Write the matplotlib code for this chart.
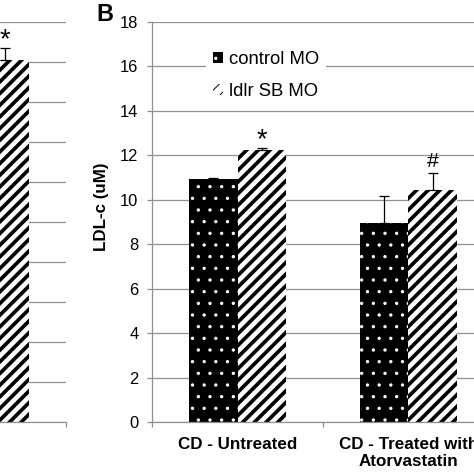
import matplotlib
matplotlib.use("Agg")
import matplotlib.pyplot as plt
import numpy as np

# ---------------- data ----------------
categories = ["CD - Untreated", "CD - Treated with\nAtorvastatin"]
series_names = ["control MO", "ldlr SB MO"]
control_vals = [10.95, 8.95]
control_err = [0.05, 1.22]
ldlr_vals = [12.25, 10.45]
ldlr_err = [0.08, 0.77]
marks = ["*", "#"]          # significance marks above ldlr bars
y_ticks_b = [0, 2, 4, 6, 8, 10, 12, 14, 16, 18]

# partially visible panel A (only the last hatched bar is in view)
panel_a_vals = [18.1]
panel_a_err = [0.6]
panel_a_marks = ["*"]
y_ticks_a = [0, 2, 4, 6, 8, 10, 12, 14, 16, 18, 20]

# ---------------- style ----------------
DPI = 70
W = H = 474
plt.rcParams['font.family'] = ['Liberation Sans', 'DejaVu Sans']
GRID = '#909090'
BAR_W = 0.2865
MARK_STYLE = {"*": dict(fontsize=28, dy=1), "#": dict(fontsize=22, dy=6)}

fig = plt.figure(figsize=(W / DPI, H / DPI), dpi=DPI)


def px(v):
    return v / W


def style_axes(ax, yticks):
    ax.set_ylim(yticks[0], yticks[-1])
    ax.set_xlim(0, 2)
    ax.set_yticks(yticks)
    ax.yaxis.grid(True, color=GRID, linewidth=1.3)
    ax.set_axisbelow(True)
    for s in ['top', 'right']:
        ax.spines[s].set_visible(False)
    for s in ['left', 'bottom']:
        ax.spines[s].set_color(GRID)
        ax.spines[s].set_linewidth(1.3)
    ax.tick_params(axis='y', direction='out', length=5, width=1.3, color=GRID,
                   labelsize=17, pad=9)
    ax.set_xticks([0, 1, 2])
    ax.set_xticklabels([])
    ax.tick_params(axis='x', which='major', direction='out', length=5,
                   width=1.3, color=GRID)


def draw_bar(ax, x, vals, face, edge, hatch, hlw):
    with plt.rc_context({'hatch.linewidth': hlw}):
        bars = ax.bar(x, vals, width=BAR_W, color=face, edgecolor=edge,
                      hatch=hatch, linewidth=0, zorder=2)
    for b in bars:
        if hasattr(b, 'set_hatch_linewidth'):
            b.set_hatch_linewidth(hlw)
    return bars


def draw_marks(ax, xs, vals, errs, labels):
    for x, v, e, m in zip(xs, vals, errs, labels):
        st = MARK_STYLE[m]
        ax.annotate(m, (x, v + e), xytext=(0, st["dy"]),
                    textcoords='offset points', ha='center', va='baseline',
                    fontsize=st["fontsize"])


# ---------------- panel B ----------------
axB = fig.add_axes([px(152), px(52), px(342), px(400)])
style_axes(axB, y_ticks_b)
centers = np.arange(len(categories)) + 0.5
xc = centers - BAR_W / 2
xl = centers + BAR_W / 2

b1 = draw_bar(axB, xc, control_vals, 'black', 'white', '.', 1.0)
b2 = draw_bar(axB, xl, ldlr_vals, 'white', 'black', '//', 3.8)
b1.set_label(series_names[0])
b2.set_label(series_names[1])

axB.errorbar(xc, control_vals, yerr=[np.zeros(len(control_err)), control_err],
             fmt='none', ecolor='black', elinewidth=1.3, capsize=5, capthick=1.3,
             zorder=3)
axB.errorbar(xl, ldlr_vals, yerr=[np.zeros(len(ldlr_err)), ldlr_err],
             fmt='none', ecolor='black', elinewidth=1.3, capsize=5, capthick=1.3,
             zorder=3)
draw_marks(axB, xl, ldlr_vals, ldlr_err, marks)

axB.set_xticks(centers, minor=True)
axB.set_xticklabels(categories, minor=True, fontsize=17.5, fontweight='bold')
axB.tick_params(axis='x', which='minor', length=0, pad=15)

axB.set_ylabel("LDL-c (uM)", fontsize=17.5, fontweight='bold')
axB.yaxis.set_label_coords(-0.125, 0.5375)

leg = axB.legend(loc='upper left', bbox_to_anchor=(0.13, 0.97), fontsize=19,
                 frameon=True, facecolor='white', edgecolor='none',
                 framealpha=1, handlelength=0.55, handleheight=0.55,
                 handletextpad=0.3, labelspacing=0.85, borderpad=0.4)

fig.text(px(96), 1 - px(3), "B", fontsize=24, fontweight='bold',
         ha='left', va='top')

# ---------------- panel A (cut off at left) ----------------
axA = fig.add_axes([px(-276), px(52), px(342), px(400)])
style_axes(axA, y_ticks_a)
axA.set_yticklabels([])
xa = [1.5 + BAR_W / 2]
draw_bar(axA, xa, panel_a_vals, 'white', 'black', '//', 3.8)
axA.errorbar(xa, panel_a_vals, yerr=[[0] * len(panel_a_err), panel_a_err],
             fmt='none', ecolor='black', elinewidth=1.3, capsize=5, capthick=1.3,
             zorder=3)
draw_marks(axA, xa, panel_a_vals, panel_a_err, panel_a_marks)

fig.savefig("out.png", dpi=DPI)
